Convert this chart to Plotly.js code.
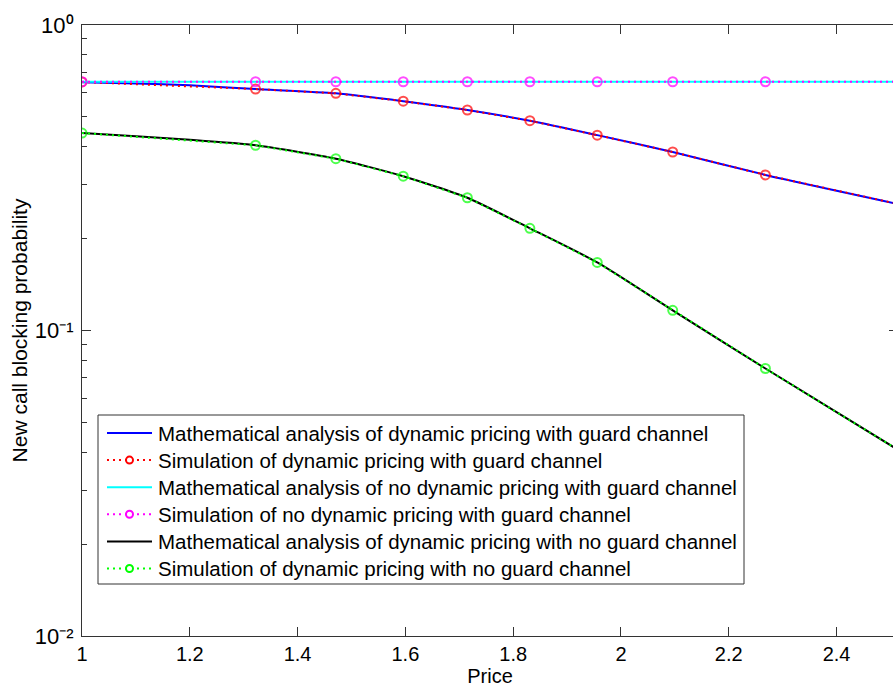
<!DOCTYPE html>
<html>
<head>
<meta charset="utf-8">
<script src="https://cdn.plot.ly/plotly-3.0.1.min.js"></script>
<style>
  html, body { margin: 0; padding: 0; overflow: hidden; background: #fff; }
  #chart { width: 905px; height: 689px; }
</style>
</head>
<body>
<div id="chart"></div>
<script>
// Price points for the analytical curves
const priceAnalysis = [1, 1.1, 1.2, 1.322, 1.471, 1.596, 1.715, 1.831, 1.956, 2.096, 2.268, 2.51];
// Price points where the simulation was run (last entry closes the dotted line at the axis edge)
const priceSim = [1, 1.322, 1.471, 1.596, 1.715, 1.831, 1.956, 2.096, 2.268, 2.51];

// Dynamic pricing with guard channel
const dynGuardAnalysis = [0.649, 0.644, 0.635, 0.617, 0.5975, 0.563, 0.527, 0.486, 0.436, 0.384, 0.323, 0.2604];
const dynGuardSim      = [0.651, 0.617, 0.5975, 0.563, 0.527, 0.486, 0.436, 0.384, 0.323, 0.2604];

// No dynamic pricing with guard channel (flat)
const priceFlat = [1, 2.51];
const noDynGuardAnalysis = [0.652, 0.652];
const noDynGuardSim      = [0.652, 0.652, 0.652, 0.652, 0.652, 0.652, 0.652, 0.652, 0.652, 0.652];

// Dynamic pricing with no guard channel
const dynNoGuardAnalysis = [0.443, 0.432, 0.421, 0.404, 0.365, 0.320, 0.272, 0.216, 0.167, 0.1164, 0.0751, 0.0411];
const dynNoGuardSim      = [0.443, 0.404, 0.365, 0.320, 0.272, 0.216, 0.167, 0.1164, 0.0751, 0.0411];

const legendNames = [
  'Mathematical analysis of dynamic pricing with guard channel',
  'Simulation of dynamic pricing with guard channel',
  'Mathematical analysis of no dynamic pricing with guard channel',
  'Simulation of no dynamic pricing with guard channel',
  'Mathematical analysis of dynamic pricing with no guard channel',
  'Simulation of dynamic pricing with no guard channel'
];
const seriesColors = ['#0000ff', '#ff0000', '#00ffff', '#ff00ff', '#000000', '#00ff00'];
const seriesIsSim  = [false, true, false, true, false, true];

const xTickVals = [1, 1.2, 1.4, 1.6, 1.8, 2, 2.2, 2.4];
const xTickText = ['1', '1.2', '1.4', '1.6', '1.8', '2', '2.2', '2.4'];
const yTickVals = [0.01, 0.1, 1];
const yTickText = ['10\u207B\u00B2', '10\u207B\u00B9', '10\u2070'];
const yMinorVals = [0.02, 0.03, 0.04, 0.05, 0.06, 0.07, 0.08, 0.09,
                    0.2, 0.3, 0.4, 0.5, 0.6, 0.7, 0.8, 0.9];

const DOT = '2px,4px';
const MARKER_SIZE = 9;
const LEGEND_MARKER_SIZE = 7;

// marker sizes: no marker on the closing point at the edge
const simMarkerSize = priceSim.map((p, i) => (i === priceSim.length - 1 ? 0 : MARKER_SIZE));

function analysisTrace(x, y, color, name) {
  return { x: x, y: y, name: name, type: 'scatter', mode: 'lines',
           line: { color: color, width: 2, shape: 'spline', smoothing: 0.6 } };
}
function simTrace(x, y, color, name) {
  return { x: x, y: y, name: name, type: 'scatter', mode: 'lines+markers',
           line: { color: color, width: 2, dash: DOT },
           marker: { symbol: 'circle-open', size: simMarkerSize, color: color,
                     line: { color: color, width: 2 } } };
}

const data = [
  analysisTrace(priceAnalysis, dynGuardAnalysis, seriesColors[0], legendNames[0]),
  simTrace(priceSim, dynGuardSim, seriesColors[1], legendNames[1]),
  analysisTrace(priceFlat, noDynGuardAnalysis, seriesColors[2], legendNames[2]),
  simTrace(priceSim, noDynGuardSim, seriesColors[3], legendNames[3]),
  analysisTrace(priceAnalysis, dynNoGuardAnalysis, seriesColors[4], legendNames[4]),
  simTrace(priceSim, dynNoGuardSim, seriesColors[5], legendNames[5])
];

const fontFamily = '"Liberation Sans", Arial, Helvetica, sans-serif';

// plot-area geometry in pixels, used to place the legend box
const M = { l: 82, r: 7, t: 25, b: 53 };
const W = 905, H = 689;
const plotW = W - M.l - M.r, plotH = H - M.t - M.b;
const px2x = px => (px - M.l) / plotW;
const py2y = py => (H - M.b - py) / plotH;

// legend drawn as a framed box with line samples and labels
const legBox = { left: 98, right: 744, top: 415, bottom: 584 };
const legRow0 = 433, legRowStep = 27.1;
const legLineX0 = 107, legLineX1 = 152, legTextX = 156;

const shapes = [{
  type: 'rect', xref: 'paper', yref: 'paper', layer: 'above',
  x0: px2x(legBox.left), x1: px2x(legBox.right), y0: py2y(legBox.bottom), y1: py2y(legBox.top),
  line: { color: '#333', width: 1 }, fillcolor: '#ffffff'
}];
const annotations = [];
legendNames.forEach((name, i) => {
  const yy = py2y(legRow0 + i * legRowStep);
  const c = seriesColors[i];
  shapes.push({
    type: 'line', xref: 'paper', yref: 'paper', layer: 'above',
    x0: px2x(legLineX0), x1: px2x(legLineX1), y0: yy, y1: yy,
    line: { color: c, width: 2, dash: seriesIsSim[i] ? DOT : 'solid' }
  });
  if (seriesIsSim[i]) {
    const half = LEGEND_MARKER_SIZE / 2;
    shapes.push({
      type: 'circle', xref: 'paper', yref: 'paper', layer: 'above',
      xsizemode: 'pixel', ysizemode: 'pixel',
      xanchor: px2x((legLineX0 + legLineX1) / 2), yanchor: yy,
      x0: -half, x1: half, y0: -half, y1: half,
      line: { color: c, width: 2 }, fillcolor: '#ffffff'
    });
  }
  annotations.push({
    xref: 'paper', yref: 'paper', x: px2x(legTextX), y: yy,
    xanchor: 'left', yanchor: 'middle', showarrow: false,
    text: name, font: { family: fontFamily, size: 20.5, color: '#000' }
  });
});

const layout = {
  width: W, height: H,
  margin: M,
  paper_bgcolor: '#ffffff', plot_bgcolor: '#ffffff',
  font: { family: fontFamily, size: 20, color: '#000' },
  showlegend: false,
  shapes: shapes,
  annotations: annotations,
  xaxis: {
    range: [1, 2.514], type: 'linear',
    tickmode: 'array', tickvals: xTickVals, ticktext: xTickText,
    ticks: 'inside', ticklen: 9, tickwidth: 1, tickcolor: '#333',
    showline: true, linecolor: '#333', linewidth: 1, mirror: 'ticks',
    showgrid: false, zeroline: false,
    tickfont: { family: fontFamily, size: 20, color: '#000' },
    title: { text: 'Price', font: { family: fontFamily, size: 20, color: '#000' }, standoff: 4 }
  },
  yaxis: {
    type: 'log', range: [-2, 0],
    tickmode: 'array', tickvals: yTickVals, ticktext: yTickText,
    ticks: 'inside', ticklen: 9, tickwidth: 1, tickcolor: '#333',
    ticklabelstandoff: 3,
    minor: { tickmode: 'array', tickvals: yMinorVals, ticks: 'inside', ticklen: 5, tickcolor: '#333', showgrid: false },
    showline: true, linecolor: '#333', linewidth: 1, mirror: 'ticks',
    showgrid: false, zeroline: false,
    tickfont: { family: fontFamily, size: 22, color: '#000' },
    title: { text: 'New call blocking probability', font: { family: fontFamily, size: 21, color: '#000' }, standoff: 1 }
  }
};

Plotly.newPlot('chart', data, layout, { staticPlot: true, displayModeBar: false });
</script>
</body>
</html>
